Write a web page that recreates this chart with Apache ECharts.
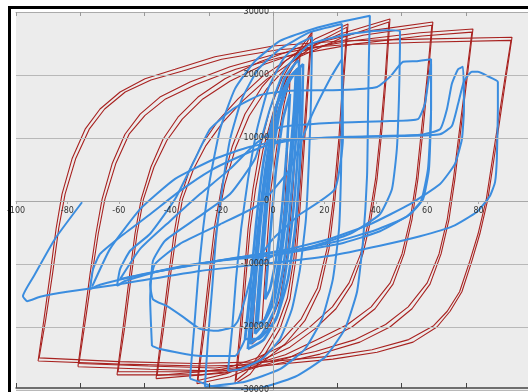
<!DOCTYPE html>
<html>
<head>
<meta charset="utf-8">
<script src="https://cdn.jsdelivr.net/npm/echarts@6/dist/echarts.min.js"></script>
<style>
html,body{margin:0;padding:0;background:#fff;}
#c{width:528px;height:392px;}
</style>
</head>
<body>
<div id="c"></div>
<script>
// ---- axis ticks ----
const xMin = -100, xMax = 100, xStep = 20, xStep2 = 25;
const yMin = -30000, yMax = 30000, yStep = 10000;

// ---- red (numerical) hysteresis loops: [displacement, force], two cycles per amplitude ----
const redA = [[-91.4,-25400],[-89.1,-18700],[-86.7,-11600],[-84.4,-4400],[-82.1,1100],[-78.2,6700],[-73.1,11400],[-67.3,14600],[-59.5,17300],[-49.8,19400],[-38.1,20900],[-22.6,22900],[0,24600],[26.1,25400],[57.2,25700],[93.0,26000],
  [90.6,19400],[88.3,13000],[86.0,6700],[83.6,300],[80.5,-5200],[77.4,-9500],[73.5,-14400],[68.9,-17500],[63.8,-20000],[54.5,-22400],[40.5,-24000],[23.3,-25100],[0,-26000],[-28.4,-26200],[-59.5,-25900],[-91.4,-25400]];
const redA2 = [[-91.0,-24900],[-88.4,-18700],[-85.8,-11600],[-83.4,-4400],[-80.9,1100],[-76.8,6700],[-71.5,11400],[-65.5,14600],[-57.5,17300],[-47.5,19200],[-35.5,20600],[-20.0,22500],[2.0,24000],[28.0,24800],[58.0,25200],[92.6,25500],
  [90.2,19400],[87.8,13000],[85.4,6700],[83.0,300],[79.8,-5200],[76.6,-9500],[72.6,-14400],[67.8,-17500],[62.5,-19800],[52.8,-22000],[38.5,-23600],[21.0,-24700],[-2.0,-25500],[-30.0,-25800],[-60.0,-25500],[-91.0,-24900]];
const redB = [[-75.9,-26300],[-73.5,-18700],[-71.2,-11600],[-68.9,-5200],[-66.5,300],[-62.6,5900],[-57.6,10600],[-51.7,13800],[-44.0,16500],[-32.3,18900],[-16.7,21300],[0,23200],[30.0,25400],[57.2,26700],[77.8,27300],
  [75.5,19400],[73.1,11400],[70.8,3500],[68.5,-2900],[65.4,-8400],[61.1,-13200],[54.1,-17100],[45.5,-20000],[33.8,-22400],[18.3,-24300],[0,-26000],[-20.6,-27000],[-47.8,-26700],[-75.9,-26300]];
const redB2 = [[-75.5,-25800],[-72.9,-18700],[-70.4,-11600],[-68.0,-5200],[-65.4,300],[-61.2,5900],[-56.0,10600],[-49.8,13600],[-41.8,16200],[-30.0,18500],[-14.5,20900],[2.0,22700],[31.5,24900],[58.0,26200],[77.4,26800],
  [75.1,19400],[72.6,11400],[70.2,3500],[67.8,-2900],[64.6,-8400],[60.0,-13000],[52.6,-16800],[43.8,-19600],[32.0,-22000],[16.5,-23900],[-2.0,-25500],[-22.5,-26500],[-48.5,-26200],[-75.5,-25800]];
const redC = [[-60.7,-27600],[-58.4,-20300],[-56.0,-12400],[-53.7,-5200],[-51.3,300],[-47.5,5400],[-42.8,9800],[-37.0,13300],[-29.2,16500],[-18.7,19400],[-5.1,22100],[10.5,24400],[33.8,26800],[62.2,28400],
  [60.3,19400],[58.4,11400],[56.4,3500],[54.1,-2900],[51.0,-8400],[46.7,-13200],[39.7,-17100],[30.7,-20000],[19.1,-22400],[6.6,-24800],[-8.9,-26700],[-28.4,-27600],[-60.7,-27600]];
const redC2 = [[-60.3,-27100],[-57.8,-20300],[-55.3,-12400],[-52.9,-5200],[-50.4,300],[-46.3,5400],[-41.3,9600],[-35.3,13000],[-27.3,16200],[-16.8,19000],[-3.3,21700],[12.3,23900],[35.0,26300],[61.8,27900],
  [59.9,19400],[57.8,11400],[55.8,3500],[53.4,-2900],[50.2,-8400],[45.6,-13000],[38.2,-16800],[29.0,-19600],[17.3,-22000],[4.8,-24400],[-10.7,-26300],[-29.5,-27100],[-60.3,-27100]];
const redD = [[-45.5,-28200],[-43.2,-20300],[-40.8,-12400],[-38.5,-5200],[-36.2,300],[-32.3,5100],[-27.6,9000],[-21.4,12700],[-13.6,16200],[-4.3,19700],[8.6,23300],[26.1,26500],[45.5,28900],
  [44.0,19400],[42.4,11400],[40.5,3500],[38.1,-2900],[35.0,-8400],[30.7,-13200],[24.5,-17100],[16.3,-20300],[6.6,-23200],[-5.1,-25400],[-18.7,-27300],[-45.5,-28200]];
const redD2 = [[-45.1,-27700],[-42.6,-20300],[-40.1,-12400],[-37.6,-5200],[-35.2,300],[-31.0,5000],[-26.1,8800],[-19.7,12400],[-11.8,15900],[-2.5,19300],[10.3,22900],[27.3,26000],[45.1,28400],
  [43.6,19400],[41.9,11400],[39.9,3500],[37.4,-2900],[34.1,-8400],[29.6,-13000],[23.1,-16800],[14.6,-19900],[4.8,-22800],[-6.9,-25000],[-20.0,-26800],[-45.1,-27700]];
const redE = [[-29.6,-29000],[-27.2,-20300],[-24.9,-11600],[-22.6,-3700],[-19.8,2700],[-15.9,8600],[-10.9,13800],[-4.3,18100],[4.7,22200],[16.3,25700],[29.2,28100],
  [27.6,19400],[26.1,9800],[24.1,300],[21.8,-7600],[18.3,-14000],[12.4,-19000],[4.7,-22700],[-5.1,-25900],[-16.7,-27900],[-29.6,-29000]];
const redE2 = [[-29.2,-28500],[-26.6,-20300],[-24.2,-11600],[-21.8,-3700],[-18.8,2600],[-14.6,8400],[-9.3,13500],[-2.6,17700],[6.3,21700],[17.5,25200],[28.8,27600],
  [27.2,19400],[25.6,9800],[23.5,300],[21.0,-7600],[17.3,-13800],[11.0,-18700],[3.0,-22300],[-6.8,-25500],[-18.0,-27400],[-29.2,-28500]];
const redF = [[-14.8,-29000],[-12.8,-20300],[-11.3,-12400],[-9.7,-4400],[-7.8,1900],[-5.1,8300],[-1.2,14600],[3.5,19400],[8.9,23300],[15.2,26800],
  [13.6,17800],[12.1,8300],[10.5,-1300],[8.9,-9200],[6.6,-15600],[2.7,-20300],[-3.1,-24300],[-8.9,-27500],[-14.8,-29000]];
const redF2 = [[-14.4,-28500],[-12.2,-20300],[-10.6,-12400],[-8.9,-4400],[-6.8,1900],[-3.9,8100],[0.2,14300],[4.8,19000],[10.0,22800],[14.8,26300],
  [13.2,17800],[11.6,8300],[9.9,-1300],[8.1,-9200],[5.6,-15400],[1.5,-20000],[-4.5,-24000],[-10.2,-27100],[-14.4,-28500]];
const redG = [[-8.2,-22700],[-6.6,-12400],[-4.7,-1300],[-1.9,8300],[1.9,15400],[5.8,20200],[10.5,23300],[9.3,13000],[7.8,1900],[5.8,-7600],[2.7,-15600],[-1.9,-20300],[-8.2,-22700]];
const redH = [[-4.3,-19500],[-2.7,-9200],[-0.8,1900],[1.9,9800],[4.3,15400],[6.6,19400],[5.8,9800],[4.7,300],[2.7,-9200],[-0.4,-16300],[-4.3,-19500]];

// ---- blue (experimental) hysteresis loops ----
const blueS1 = [[-7.0,-21100],[-5.4,-12400],[-3.5,-2900],[-1.2,6700],[1.9,13800],[5.8,18600],[8.9,20600],[8.2,14600],[6.6,6700],[4.7,-1300],[2.3,-9200],[-0.4,-15600],[-3.9,-19500],[-7.0,-21100]];
const blueS2 = [[-8.9,-22700],[-7.0,-14000],[-5.1,-4400],[-2.3,5100],[1.2,13000],[5.8,19000],[10.5,21300],[9.7,14600],[8.2,5900],[6.2,-2900],[3.9,-10800],[0.8,-17100],[-4.3,-21100],[-8.9,-22700]];
const blueS3 = [[-10.9,-21900],[-8.9,-14000],[-6.6,-3700],[-3.5,6700],[0.8,14600],[6.6,19700],[11.7,21700],[11.3,13000],[10.1,3500],[8.6,-4400],[5.8,-12400],[1.2,-18700],[-5.8,-21900],[-10.9,-21900]];
const blueS4 = [[-3.1,-15600],[-1.2,-6000],[1.2,5100],[3.9,13000],[6.6,17000],[5.4,8300],[3.5,-1300],[1.2,-9200],[-1.2,-14000],[-3.1,-15600]];
const blueS5 = [[-6.0,-19500],[-4.4,-11000],[-2.6,-2000],[-0.3,7000],[2.8,14500],[6.5,19300],[9.5,21000],[9.0,15000],[7.4,7000],[5.5,-1000],[3.0,-9500],[0.3,-16000],[-3.0,-18800],[-6.0,-19500]];
const blueS6 = [[-9.8,-23500],[-8.0,-15000],[-6.0,-5000],[-3.0,5000],[0.5,13500],[4.5,19500],[9.8,22300],[10.6,16000],[9.4,6000],[7.4,-3500],[4.8,-11500],[1.8,-18000],[-3.6,-22000],[-9.8,-23500]];
const blueM1 = [[-17.5,-27000],[-15.9,-20300],[-14.4,-12400],[-12.4,-4400],[-9.7,3500],[-6.2,11400],[-1.9,17800],[3.9,22500],[9.7,24900],[15.2,26000],[14.8,16200],[14.0,6700],[12.8,-2900],[10.5,-10800],[7.4,-17100],[2.7,-21900],[-4.3,-25100],[-12.8,-26700],[-17.5,-27000]];
const blueM2 = [[-26.5,-29500],[-25.3,-21900],[-23.7,-14000],[-22.2,-6000],[-19.8,1900],[-16.7,9800],[-12.1,16200],[-5.8,20900],[2.7,24100],[14.4,26800],[26.8,28100],[26.8,16200],[26.5,5100],[25.7,-4400],[23.3,-12400],[19.1,-18700],[12.4,-23500],[2.7,-26700],[-10.9,-28700],[-26.5,-29500]];
const blueM3 = [[-32.3,-28200],[-30.7,-20300],[-29.2,-12400],[-27.2,-4400],[-24.5,3500],[-20.6,11400],[-14.8,17800],[-7.0,22200],[2.7,25400],[15.6,27300],[26.1,28400],[37.7,29400],[37.3,22500],[37.0,14600],[36.6,4000],[35.0,-6500],[32.7,-14400],[28.0,-20300],[20.2,-24800],[8.6,-27900],[-7.0,-29800],[-22.6,-29500],[-32.3,-28200]];
const blueL3 = [[-47.1,-23000],[-47.8,-15600],[-46.7,-9500],[-42.0,-6300],[-30.3,-2900],[-16.7,1100],[-7.0,6700],[-1.2,14600],[4.7,20900],[14.4,24900],[30.0,26500],[43.6,27100],[49.4,27000],[49.4,24400],[49.0,16200],[48.2,8300],[46.3,1900],[41.6,-2100],[30.0,-5200],[14.4,-7300],[0.8,-8600],[-5.8,-10000],[-8.9,-15600],[-10.9,-21900],[-14.8,-24600],[-28.4,-24600],[-44.0,-23500],[-47.1,-23000]];
const blueL3b = [[10.5,-2100],[0,-6000],[-7.0,-10000],[-10.9,-15600],[-13.6,-19000],[-15.6,-20000],[-21.8,-20600],[-28.4,-20300],[-35.0,-18400],[-41.2,-16700],[-46.7,-15600],[-47.8,-13200],[-45.9,-10000],[-36.2,-6800],[-20.6,-3700],[-5.1,-500],[6.6,5100],[14.4,13000],[22.2,19400],[26.8,22500],[27.2,9800],[24.1,1900],[10.5,-2100]];
const blueL4 = [[-60.7,-13500],[-59.5,-10800],[-55.6,-7900],[-47.8,-5200],[-38.1,300],[-30.3,6700],[-24.5,11400],[-15.6,14600],[-5.1,16800],[6.6,17500],[26.1,17600],[40.5,18100],[45.5,19700],[50.6,22100],[56.0,22200],[61.5,22500],[61.5,14600],[60.7,5100],[58.4,300],[53.3,-2100],[41.6,-4800],[26.1,-6800],[10.5,-7900],[0,-8600],[-20.6,-9500],[-44.0,-11100],[-57.6,-12700],[-60.7,-13500]];
const blueL4b = [[-59.5,-12400],[-51.7,-7600],[-40.1,-3200],[-28.4,1100],[-16.7,5100],[-7.0,9000],[2.7,11700],[22.2,12400],[45.5,12700],[56.4,13000],[59.1,15400],[60.3,18600],[61.5,21700],[61.5,14600],[60.3,5100],[57.6,0],[52.0,-2500],[40.0,-4600],[25.0,-6400],[10.0,-7700],[-10.0,-8800],[-35.0,-10300],[-55.0,-12000],[-59.5,-12400]];
const blueL5 = [[-71.2,-14000],[-70.0,-10800],[-67.3,-8400],[-59.5,-5700],[-47.8,-2100],[-36.2,1600],[-24.5,4800],[-12.8,7100],[-1.2,9000],[10.5,9800],[30.0,10200],[57.2,10500],[65.0,11400],[67.7,14600],[69.6,18600],[72.0,20900],[73.9,21300],[74.3,14600],[73.5,9800],[70.8,5900],[65.0,2700],[53.3,-500],[37.7,-3700],[22.2,-6000],[6.6,-7600],[-12.8,-8900],[-36.2,-10500],[-55.6,-12100],[-67.3,-13300],[-71.2,-14000]];
const blueL6 = [[-70.4,-13600],[-63.4,-7600],[-51.7,-1300],[-38.1,3500],[-22.6,6700],[-8.9,8600],[6.6,9800],[49.4,10300],[65.0,10600],[69.6,11900],[72.0,15400],[74.3,19000],[77.4,20500],[79.7,20500],[83.6,19800],[87.5,18900],[87.5,14600],[87.1,6700],[86.4,3000],[84.4,800],[79.4,-1700],[70.0,-4000],[57.2,-5600],[41.6,-7100],[22.2,-8700],[2.7,-9700],[-28.4,-11100],[-59.5,-13200],[-80.1,-14400],[-90.6,-15200],[-95.7,-15900],[-97.3,-15100],[-92.6,-11600],[-84.8,-6000],[-74.3,-200]];

const redLoops = [redA, redA2, redB, redB2, redC, redC2, redD, redD2, redE, redE2, redF, redF2, redG, redH];
const blueLoops = [blueL6, blueL5, blueL4, blueL4b, blueL3, blueL3b, blueM3, blueM2, blueM1];
const blueCore = [blueS3, blueS6, blueS2, blueS1, blueS5, blueS4];

const chart = echarts.init(document.getElementById('c'), null, {renderer: 'canvas'});
const series = [];
redLoops.forEach(function (d) {
  series.push({type: 'line', data: d, showSymbol: false, silent: true, smooth: false,
    xAxisIndex: 0, yAxisIndex: 0, lineStyle: {color: '#a82220', width: 1.1}, z: 2});
});
blueLoops.forEach(function (d) {
  series.push({type: 'line', data: d, showSymbol: false, silent: true, smooth: 0.15,
    xAxisIndex: 0, yAxisIndex: 0, lineStyle: {color: '#3b8ddf', width: 2}, z: 3});
});
blueCore.forEach(function (d) {
  series.push({type: 'line', data: d, showSymbol: false, silent: true, smooth: 0.15,
    xAxisIndex: 0, yAxisIndex: 0, lineStyle: {color: '#3b8ddf', width: 2.6}, z: 3});
});

const labelFont = {fontSize: 8, color: '#333', fontFamily: 'DejaVu Sans'};
const plotRect = {left: 16, top: 12, width: 514, height: 378, outerBoundsMode: 'none', containLabel: false};
chart.setOption({
  animation: false,
  backgroundColor: '#ffffff',
  grid: [
    Object.assign({show: true, backgroundColor: '#ececec', borderWidth: 0, z: 0}, plotRect),
    Object.assign({show: false}, plotRect)
  ],
  xAxis: [
    {gridIndex: 0, type: 'value', min: xMin, max: xMax, interval: xStep, position: 'bottom', offset: -189, z: 10,
      axisLine: {show: true, onZero: false, lineStyle: {color: '#a8a8a8', width: 1}},
      axisTick: {show: true, length: 3, lineStyle: {color: '#a8a8a8'}},
      axisLabel: Object.assign({margin: 6, formatter: function (v) { return v === xMax ? '' : String(v); }}, labelFont),
      splitLine: {show: false}},
    {gridIndex: 1, type: 'value', min: xMin, max: xMax, interval: xStep2, position: 'bottom', offset: -2, z: 10,
      axisLine: {show: true, onZero: false, lineStyle: {color: '#444', width: 1.5}},
      axisTick: {show: true, inside: true, length: 5, lineStyle: {color: '#444'}},
      axisLabel: {show: false}, splitLine: {show: false}},
    {gridIndex: 1, type: 'value', min: xMin, max: xMax, interval: xStep2, position: 'top', z: 10,
      axisLine: {show: true, onZero: false, lineStyle: {color: '#aaa', width: 1}},
      axisTick: {show: true, inside: true, length: 4, lineStyle: {color: '#999'}},
      axisLabel: {show: false}, splitLine: {show: false}}
  ],
  yAxis: [
    {gridIndex: 0, type: 'value', min: yMin, max: yMax, interval: yStep, position: 'left', offset: -257, z: 10,
      axisLine: {show: true, onZero: false, lineStyle: {color: '#a8a8a8'}},
      axisTick: {show: true, length: 3, lineStyle: {color: '#a8a8a8'}},
      axisLabel: Object.assign({margin: 4, formatter: function (v) { return String(v); }}, labelFont),
      splitLine: {show: true, lineStyle: {color: '#b8b8b8', width: 1}}},
    {gridIndex: 1, type: 'value', min: yMin, max: yMax, show: false}
  ],
  graphic: [
    {type: 'rect', z: 100, shape: {x: 9.5, y: 7.5, width: 540, height: 400},
      style: {fill: null, stroke: '#000', lineWidth: 3}}
  ],
  series: series
});
</script>
</body>
</html>
